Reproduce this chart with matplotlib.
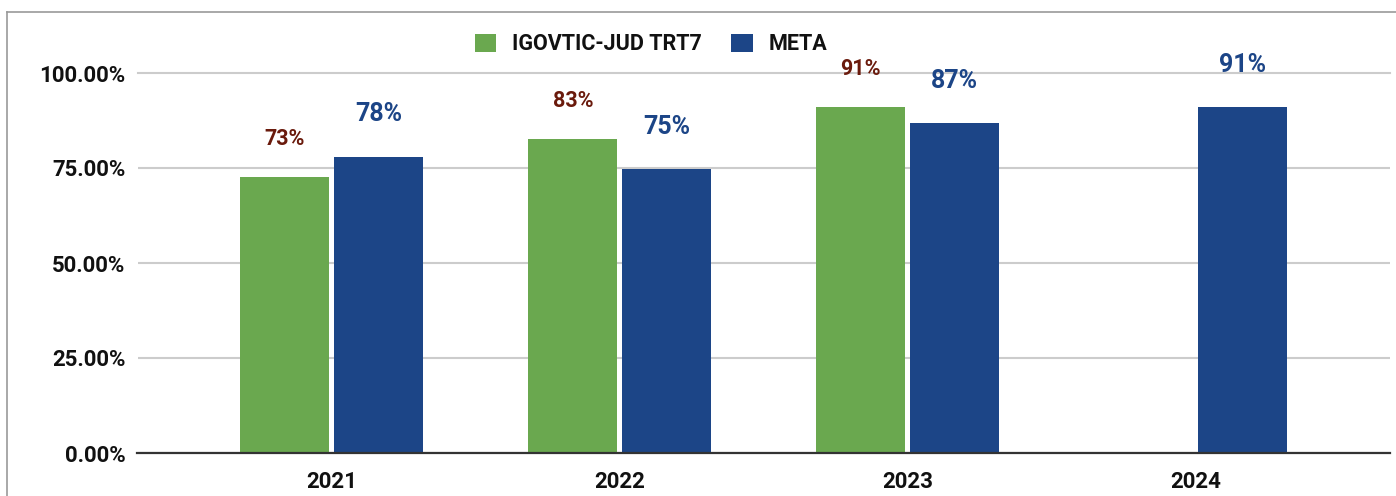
import numpy as np
import matplotlib
matplotlib.use("Agg")
import matplotlib.pyplot as plt
from matplotlib.ticker import PercentFormatter
from matplotlib.lines import Line2D
from matplotlib.patches import Patch

years = ["2021", "2022", "2023", "2024"]
series_names = ["IGOVTIC-JUD TRT7", "META"]
igov = [0.726, 0.826, 0.910, np.nan]
meta = [0.779, 0.747, 0.868, 0.910]
yticks = [0.0, 0.25, 0.50, 0.75, 1.0]

GREEN = "#6aa84f"
BLUE = "#1c4587"
RED_LABEL = "#6a1a0c"

plt.rcParams['font.family'] = ['Roboto', 'DejaVu Sans']

fig = plt.figure(figsize=(13.96, 4.96), dpi=100)
ax = fig.add_axes([137.5/1396, 1-453/496, (1390-137.5)/1396, (453-73)/496])

x = np.arange(len(years))
w = 0.309
off = 0.163
b1 = ax.bar(x - off, igov, w, color=GREEN, zorder=3, label=series_names[0])
b2 = ax.bar(x + off, meta, w, color=BLUE, zorder=3, label=series_names[1])

for xi, v in zip(x - off, igov):
    if not np.isnan(v):
        ax.annotate(f"{round(v*100)}%", (xi, v), xytext=(0, 19.5), textcoords="offset points",
                    ha="center", va="bottom", fontsize=15.5, fontweight="bold",
                    color=RED_LABEL, annotation_clip=False)
for xi, v in zip(x + off, meta):
    if not np.isnan(v):
        ax.annotate(f"{round(v*100)}%", (xi, v), xytext=(0, 22), textcoords="offset points",
                    ha="center", va="bottom", fontsize=18, fontweight="bold",
                    color=BLUE, annotation_clip=False)

ax.set_xlim(-0.675, 3.675)
ax.set_ylim(0, 1.0)
ax.set_yticks(yticks)
ax.yaxis.set_major_formatter(PercentFormatter(1.0, decimals=2))
ax.set_xticks(x)
ax.set_xticklabels(years)
ax.tick_params(axis="both", length=0, labelsize=16)
ax.tick_params(axis="y", pad=8.5)
ax.tick_params(axis="x", pad=13)
for lab in ax.get_xticklabels() + ax.get_yticklabels():
    lab.set_fontweight("bold")
    lab.set_color("#111111")

ax.grid(axis="y", color="#cccccc", linewidth=1.5, zorder=0)
ax.set_axisbelow(True)
for s in ["top", "right", "left"]:
    ax.spines[s].set_visible(False)
ax.spines["bottom"].set_color("#333333")
ax.spines["bottom"].set_linewidth(1.6)
ax.spines["bottom"].set_zorder(4)
ax.yaxis.get_gridlines()[-1].set_clip_on(False)

handles = [Patch(facecolor=GREEN, label=series_names[0]), Patch(facecolor=BLUE, label=series_names[1])]
leg = fig.legend(handles=handles, loc="center", bbox_to_anchor=(651/1396, 1-44/496), ncol=2,
                 frameon=False, fontsize=15.5, handlelength=1.0, handleheight=0.92,
                 handletextpad=0.75, columnspacing=1.35, borderpad=0, borderaxespad=0)
for t in leg.get_texts():
    t.set_fontweight("bold")
    t.set_color("#111111")

# outer border
fig.add_artist(Line2D([6.5/1396, 6.5/1396], [0, 1-11.5/496], transform=fig.transFigure, color="#999999", linewidth=1.2))
fig.add_artist(Line2D([6.5/1396, 1], [1-11.5/496, 1-11.5/496], transform=fig.transFigure, color="#999999", linewidth=1.2))

fig.savefig("out.png", dpi=100)
